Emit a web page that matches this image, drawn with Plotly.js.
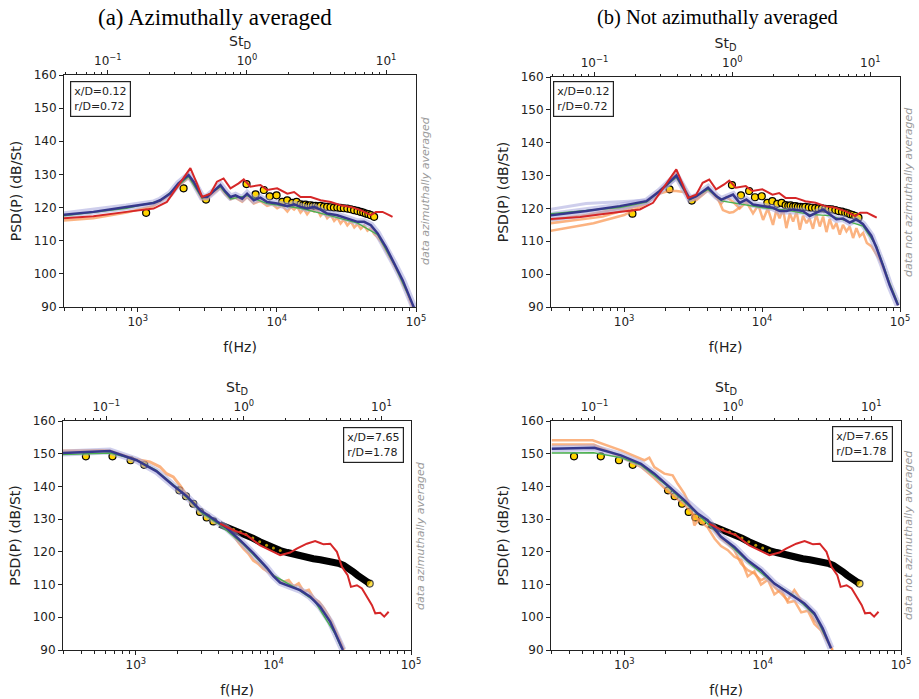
<!DOCTYPE html>
<html>
<head>
<meta charset="utf-8">
<script src="https://cdn.plot.ly/plotly-3.0.1.min.js"></script>
<style>
  html, body { margin: 0; padding: 0; background: #fff; }
  #chart { width: 919px; height: 699px; }
</style>
</head>
<body>
<div id="chart"></div>
<script>
// ---------------- Experiment (near field, x/D=0.12) ----------------
const expTopSparseF  = [1149, 2135, 3095, 6050, 7030, 8060, 8880, 9950, 10920, 11870, 12900, 13850];
const expTopSparseDb = [118.4, 125.8, 122.4, 127.1, 124.0, 125.3, 123.4, 123.7, 121.7, 122.2, 121.4, 121.7];
const expTopDenseF  = [14830, 15500, 16100, 16800, 17500, 18200, 19000, 19800, 20600, 21800, 23000, 24300, 25700, 27200, 28700, 30300, 32100, 34000, 35900, 38000, 40100, 41800, 43600, 45500, 47400, 50000];
const expTopDenseDb = [121.0, 120.8, 120.9, 120.6, 120.7, 120.5, 120.5, 120.4, 120.5, 120.3, 120.2, 120.1, 120.0, 120.0, 119.9, 119.8, 119.7, 119.5, 119.2, 119.0, 118.7, 118.5, 118.2, 118.0, 117.7, 117.2];

// ---------------- Experiment (far field, x/D=7.65) ----------------
const expBotSparseF  = [433, 676, 915, 1150, 2070, 2313, 2614, 2922, 3270, 3660];
const expBotSparseDb = [149.2, 149.2, 148.0, 146.6, 138.8, 137.0, 134.7, 132.2, 130.5, 129.3];
const expBotDenseF  = [4070, 4570, 5130, 5750, 6310, 7080, 7940, 8910, 10000, 11200, 12600, 14100, 15800, 17400, 19500, 21900, 24500, 27500, 30200, 32400, 35500, 38000, 40700, 43600, 46800, 50100];
const expBotDenseDb = [128.4, 127.6, 126.8, 126.1, 125.3, 124.2, 123.1, 122.0, 121.2, 120.4, 119.8, 119.2, 118.7, 118.3, 117.9, 117.6, 117.3, 116.9, 116.4, 115.9, 115.0, 113.9, 112.9, 111.9, 111.0, 110.3];

// ---------------- Reference simulation (red) ----------------
const redTopF  = [275, 480, 830, 1300, 1620, 2020, 2390, 2660, 2900, 3330, 3710, 4140, 4640, 5310, 5780, 6450, 7620, 8510, 10050, 11900, 13300, 14800, 17500, 20600, 24400, 28700, 34000, 40100, 47400, 51500, 57500, 64200, 67800];
const redTopDb = [116.7, 117.4, 118.7, 119.7, 121.7, 127.3, 131.9, 127.3, 123.2, 124.2, 127.8, 128.8, 125.8, 127.3, 128.5, 126.3, 126.8, 125.3, 125.8, 124.2, 124.7, 123.2, 123.2, 122.2, 121.7, 120.7, 120.2, 119.2, 117.7, 118.7, 118.7, 117.7, 117.2];
const redBotF  = [4090, 5120, 6400, 8000, 10000, 11190, 13220, 14780, 17490, 20100, 21870, 23120, 25870, 28930, 31470, 34610, 36590, 40450, 43990, 47830, 52020, 55000, 59800, 63900, 68800];
const redBotDb = [128.6, 126.6, 125.1, 122.0, 120.0, 119.0, 119.8, 121.0, 122.5, 123.3, 122.7, 122.3, 122.5, 120.0, 115.4, 112.9, 109.3, 109.8, 108.8, 106.3, 103.7, 101.2, 101.4, 100.2, 101.7];

// ---------------- (a) azimuthally averaged, x/D=0.12 ----------------
const navyAF  = [275, 480, 830, 1300, 1450, 1710, 1960, 2320, 2520, 2900, 3150, 3610, 3930, 4270, 4640, 5040, 5630, 6110, 6830, 7620, 8510, 10050, 11900, 13300, 14800, 16500, 18500, 20600, 23000, 27200, 32100, 38000, 42400, 47400, 53000, 60800, 69800, 80200, 92000, 97300];
const navyADb = [117.7, 118.7, 120.2, 121.4, 122.2, 124.2, 127.3, 129.8, 127.8, 123.2, 123.2, 125.3, 126.8, 124.8, 123.2, 123.7, 122.7, 124.2, 122.2, 123.0, 121.7, 121.2, 120.4, 121.0, 120.2, 119.7, 120.2, 119.4, 118.2, 117.7, 116.7, 115.7, 115.7, 114.7, 112.2, 108.1, 103.1, 98.1, 92.0, 89.5];
const orangeAF  = [275, 480, 830, 1300, 1600, 1960, 2320, 2520, 2900, 3150, 3610, 3930, 4270, 4640, 5040, 5630, 6110, 6830, 7620, 8510, 9300, 10050, 10900, 11900, 12600, 13300, 14000, 14800, 15600, 16500, 17500, 18500, 19500, 20600, 21800, 23000, 24400, 25800, 27200, 28700, 30300, 32100, 34000, 36000, 38000, 40100, 42400, 44800, 47400, 50000, 53000, 56500, 60800, 65000, 69800, 75000, 80200, 86000, 92000, 97300];
const orangeADb = [116.0, 116.8, 118.5, 120.5, 123.0, 126.5, 129.0, 127.0, 122.5, 122.8, 124.8, 126.0, 124.0, 122.5, 123.0, 121.8, 123.2, 121.2, 122.0, 120.5, 121.0, 119.8, 120.6, 118.8, 120.2, 119.4, 120.3, 118.5, 119.6, 118.0, 119.4, 118.8, 119.6, 117.5, 118.6, 116.8, 117.8, 116.0, 117.0, 115.2, 116.4, 114.6, 115.8, 114.0, 115.0, 113.6, 114.6, 113.0, 113.8, 112.0, 111.0, 109.5, 107.0, 105.0, 102.5, 100.0, 97.0, 94.5, 91.0, 89.0];
const greenAF  = [275, 830, 1450, 2320, 2900, 3930, 4640, 6110, 8510, 14800, 23000, 38000, 53000, 69800, 92000];
const greenADb = [117.4, 119.8, 122.0, 129.3, 122.8, 126.2, 122.6, 123.6, 121.2, 119.8, 117.8, 115.3, 111.8, 102.8, 91.8];

// ---------------- (b) not averaged, x/D=0.12 ----------------
const navyBF  = [292, 533, 931, 1452, 1814, 2393, 2990, 3343, 4060, 4670, 5070, 6160, 6880, 7690, 8600, 10170, 12020, 13430, 15010, 16780, 19820, 22140, 24750, 27670, 30920, 34560, 38630, 43170, 48270, 53950, 61960, 67400, 75300, 84200, 96800];
const navyBDb = [117.9, 119.2, 120.7, 122.2, 125.3, 130.0, 122.9, 123.7, 126.3, 123.7, 122.7, 124.2, 121.7, 122.7, 121.2, 120.7, 120.2, 119.2, 119.2, 119.7, 119.2, 117.7, 118.7, 119.7, 118.2, 116.7, 116.9, 115.7, 116.7, 115.2, 111.7, 108.1, 102.6, 96.6, 90.5];
const orangeB1F  = [292, 530, 930, 1450, 1810, 2390, 2990, 3340, 4060, 4670, 5070, 5500, 6160, 6880, 7690, 8600, 9400, 10170, 11000, 12000, 12700, 13400, 14200, 15000, 15900, 16800, 17800, 18800, 19800, 21000, 22100, 23400, 24700, 26200, 27700, 29300, 30900, 32700, 34600, 36600, 38600, 40900, 43200, 45700, 48300, 51000, 54000, 57500, 62000, 67400, 71000, 75300, 80000, 84200, 90000, 96800];
const orangeB1Db = [116.5, 118.0, 120.0, 122.0, 125.5, 129.5, 122.5, 123.0, 126.0, 123.0, 121.5, 123.5, 122.0, 120.0, 122.0, 118.5, 121.0, 116.5, 120.0, 115.0, 119.5, 117.0, 119.8, 114.0, 118.5, 116.0, 119.0, 113.5, 117.8, 115.5, 117.0, 113.8, 118.2, 114.5, 117.5, 112.8, 116.8, 113.8, 115.5, 112.0, 115.0, 113.0, 114.5, 111.0, 114.0, 111.5, 112.5, 109.5, 108.5, 106.0, 104.5, 102.0, 99.5, 97.0, 94.0, 90.5];
const orangeB2F  = [292, 600, 1000, 1450, 1810, 2390, 2700, 2990, 3340, 4060, 4670, 5200, 5800, 6200, 7000];
const orangeB2Db = [113.2, 115.5, 118.0, 121.5, 124.8, 130.5, 127.0, 123.0, 122.5, 125.5, 124.0, 119.5, 118.7, 118.9, 120.5];
const orangeB3F  = [292, 700, 1200, 1810, 2100, 2390, 2700, 2990, 3340];
const orangeB3Db = [115.5, 117.5, 120.5, 124.5, 125.3, 125.3, 125.0, 123.5, 123.0];
const lavB1F  = [292, 530, 930, 1450, 1810, 2390];
const lavB1Db = [119.7, 121.5, 122.0, 122.5, 125.0, 129.0];
const lavB2F  = [292, 530, 930, 1450, 1810];
const lavB2Db = [116.4, 117.8, 119.5, 121.6, 124.6];
const greenBF  = [292, 931, 1452, 2393, 2990, 4060, 5070, 6880, 10170, 15010, 22140, 30920, 43170, 53950, 67400, 84200, 96800];
const greenBDb = [118.4, 120.3, 121.9, 129.5, 122.6, 125.8, 122.3, 121.4, 120.2, 119.5, 118.2, 117.8, 115.8, 114.6, 108.6, 97.2, 91.0];

// ---------------- (a) azimuthally averaged, x/D=7.65 ----------------
const navyCF  = [280, 578, 647, 1011, 1414, 1870, 2340, 2925, 3660, 4570, 5710, 7140, 8930, 10000, 11190, 13230, 15630, 18490, 21870, 25870, 28930, 31980];
const navyCDb = [150.2, 150.9, 150.8, 148.0, 144.6, 140.3, 137.0, 132.8, 129.9, 127.3, 123.6, 119.6, 115.2, 112.6, 110.6, 109.4, 108.3, 106.3, 103.2, 98.6, 94.1, 90.0];
const orangeCF  = [280, 578, 647, 1011, 1265, 1495, 1670, 1870, 2090, 2340, 2540, 2760, 3010, 3270, 3660, 4090, 4570, 5120, 5560, 6060, 6580, 7140, 7770, 8440, 9180, 10000, 10880, 11840, 12880, 14010, 15250, 16590, 18040, 19640, 21360, 23230, 25270, 27500, 29900, 32550];
const orangeCDb = [150.8, 151.0, 150.8, 148.2, 147.5, 146.0, 143.9, 142.9, 140.3, 137.3, 134.7, 133.9, 132.2, 131.4, 129.7, 128.6, 127.1, 125.1, 123.0, 121.0, 119.5, 117.4, 116.4, 114.9, 113.9, 112.6, 111.5, 110.8, 111.3, 109.3, 110.3, 107.8, 108.3, 105.7, 104.7, 102.7, 100.2, 97.1, 93.5, 90.0];
const greenCF  = [280, 650, 1000, 1400, 2000, 3000, 4000, 6000, 10000, 15000, 20000, 28000, 31000];
const greenCDb = [149.7, 150.2, 148.2, 145.0, 139.5, 132.0, 128.5, 122.4, 112.8, 108.6, 104.9, 95.0, 90.8];

// ---------------- (b) not averaged, x/D=7.65 ----------------
const navyDF  = [299, 607, 946, 1319, 1648, 2056, 2715, 3390, 4000, 4995, 6240, 7790, 9730, 12150, 14340, 16930, 20000, 23610, 27150, 31190];
const navyDDb = [151.5, 151.8, 149.5, 146.9, 143.9, 140.3, 135.8, 131.7, 129.7, 124.6, 121.5, 117.4, 114.4, 110.3, 108.3, 106.3, 104.2, 101.2, 96.6, 90.5];
const orangeD1F  = [299, 590, 946, 1395, 1516, 1648, 1946, 2236, 2430, 2715, 3033, 3204, 3582, 4000, 4470, 4995, 5580, 6240, 6970, 7790, 8700, 9730, 10870, 12150, 13580, 15170, 16950, 18950, 21170, 23650, 26430, 29530, 32030];
const orangeD1Db = [154.1, 154.1, 151.0, 148.0, 148.8, 145.9, 143.9, 143.4, 140.8, 137.8, 133.7, 128.1, 130.7, 129.7, 126.6, 124.1, 122.5, 120.5, 116.4, 114.4, 113.4, 111.3, 112.4, 109.3, 107.3, 105.2, 108.3, 105.2, 103.2, 99.1, 97.1, 93.0, 90.0];
const orangeD2F  = [299, 600, 946, 1320, 1650, 2060, 2720, 3390, 4000, 4500, 5000, 5600, 6240, 7000, 7790, 8700, 9730, 10900, 12150, 13600, 15200, 17000, 19000, 21200, 23600, 26400, 29500, 32000];
const orangeD2Db = [152.8, 152.8, 149.0, 146.0, 142.5, 138.5, 134.5, 130.0, 127.5, 124.0, 121.8, 120.5, 118.5, 117.5, 112.5, 114.0, 110.0, 111.5, 107.0, 108.5, 104.5, 105.0, 101.5, 102.0, 98.0, 96.0, 92.5, 90.0];
const greenDF  = [299, 600, 946, 1320, 2060, 3390, 5000, 8000, 12000, 17000, 24000, 31000];
const greenDDb = [150.2, 150.3, 148.8, 146.5, 140.0, 131.5, 124.8, 116.5, 110.5, 106.5, 100.5, 90.8];

// ---------------- axis labels ----------------
const freqTickVals = [1e3, 1e4, 1e5];
const freqTickText = ['10<sup>3</sup>', '10<sup>4</sup>', '10<sup>5</sup>'];
const stTickVals = [0.1, 1, 10];
const stTickText = ['10<sup>\u22121</sup>', '10<sup>0</sup>', '10<sup>1</sup>'];

// ---------------- styling ----------------
const FONT = 'DejaVu Sans, Verdana, sans-serif';
const SERIF = 'Liberation Serif, Times New Roman, serif';
const INK = '#222';
const C_ORANGE = 'rgba(250,150,80,0.72)';
const C_LAV = 'rgba(165,165,220,0.55)';
const C_GREEN = '#4caf50';
const C_NAVY = '#36388c';
const C_RED = '#d62728';
const C_YEL = '#ffd500';
const W = 919, H = 699;
const LOGF = [2.47, 5];       // log10 of f range
const SHIFT = -3.785;         // log10(St/f)

const px = v => v / W;
const py = v => 1 - v / H;

function minorTicks(lo, hi) {
  const out = [];
  for (let e = Math.floor(lo); e <= Math.ceil(hi); e++) {
    for (let m = 2; m <= 9; m++) {
      const v = m * Math.pow(10, e);
      const lv = Math.log10(v);
      if (lv > lo && lv < hi) out.push(v);
    }
  }
  return out;
}

const layout = {
  width: W, height: H,
  margin: {l: 0, r: 0, t: 0, b: 0},
  paper_bgcolor: '#fff', plot_bgcolor: '#fff',
  showlegend: false,
  font: {family: FONT, color: INK},
  annotations: []
};

const panels = [
  {n: '',  top: 5, xd: [64, 416], yd: [75, 307]},
  {n: '2', top: 6, xd: [551, 900], yd: [77, 307]},
  {n: '3', top: 7, xd: [63, 411], yd: [421, 650]},
  {n: '4', top: 8, xd: [551, 901], yd: [421, 650]}
];

const traces = [];

panels.forEach(p => {
  const xd = [px(p.xd[0]), px(p.xd[1])];
  const yd = [py(p.yd[1]), py(p.yd[0])];
  const axCommon = {
    showgrid: false, zeroline: false, showline: true, linecolor: INK, linewidth: 1,
    ticks: 'outside', ticklen: 4, tickwidth: 1, tickcolor: INK,
    tickfont: {family: FONT, size: 12, color: INK}
  };
  const minorStyle = {ticks: 'outside', ticklen: 2.5, tickwidth: 1, tickcolor: INK, tickmode: 'array', showgrid: false};
  layout['xaxis' + p.n] = Object.assign({}, axCommon, {
    type: 'log', range: LOGF, domain: xd, anchor: 'y' + p.n,
    tickmode: 'array', tickvals: freqTickVals, ticktext: freqTickText,
    minor: Object.assign({tickvals: minorTicks(LOGF[0], LOGF[1])}, minorStyle),
    title: {text: 'f(Hz)', font: {family: FONT, size: 14, color: INK}, standoff: 13}
  });
  const stRange = [LOGF[0] + SHIFT, LOGF[1] + SHIFT];
  layout['xaxis' + p.top] = Object.assign({}, axCommon, {
    type: 'log', range: stRange, overlaying: 'x' + p.n, anchor: 'y' + p.n, side: 'top',
    tickmode: 'array', tickvals: stTickVals, ticktext: stTickText,
    minor: Object.assign({tickvals: minorTicks(stRange[0], stRange[1])}, minorStyle),
    title: {text: 'St<sub>D</sub>', font: {family: FONT, size: 14, color: INK}, standoff: 2}
  });
  layout['yaxis' + p.n] = Object.assign({}, axCommon, {
    range: [90, 160], domain: yd, anchor: 'x' + p.n, dtick: 10, tick0: 0, mirror: true,
    title: {text: 'PSD(P) (dB/St)', font: {family: FONT, size: 14, color: INK}, standoff: 8}
  });
  // empty series so the Strouhal axis on top gets drawn
  traces.push({type: 'scatter', mode: 'lines', x: [], y: [], xaxis: 'x' + p.top, yaxis: 'y' + p.n,
    hoverinfo: 'skip'});
});

// ---------------- traces ----------------
function line(n, f, db, color, width) {
  traces.push({
    type: 'scatter', mode: 'lines', x: f, y: db, xaxis: 'x' + n, yaxis: 'y' + n,
    line: {color: color, width: width, shape: 'linear'}, hoverinfo: 'skip'
  });
}
function expMarkers(n, f, db) {
  traces.push({type: 'scatter', mode: 'markers', x: f, y: db, xaxis: 'x' + n, yaxis: 'y' + n,
    marker: {size: 7, color: C_YEL, line: {color: '#000', width: 1.2}}, hoverinfo: 'skip'});
}
function expBand(n, f, db) {
  // densely packed measurement points: black ring band with yellow centres showing through
  traces.push({type: 'scatter', mode: 'lines', x: f, y: db, xaxis: 'x' + n, yaxis: 'y' + n,
    line: {color: '#000', width: 7}, hoverinfo: 'skip'});
  const last = f.length - 1;
  traces.push({type: 'scatter', mode: 'markers', x: f, y: db, xaxis: 'x' + n, yaxis: 'y' + n,
    marker: {size: f.map((v, i) => (i === last ? 7 : (v < 12000 ? 3 : 0))), color: C_YEL,
             line: {color: '#000', width: f.map((v, i) => (i === last ? 1.2 : 0))}},
    hoverinfo: 'skip'});
}

// panel 1
expMarkers('', expTopSparseF, expTopSparseDb);
expMarkers('', expTopDenseF, expTopDenseDb);
line('', orangeAF, orangeADb, C_ORANGE, 2.5);
line('', navyAF, navyADb, C_LAV, 7);
line('', greenAF, greenADb, C_GREEN, 1.4);
line('', navyAF, navyADb, C_NAVY, 2.5);
line('', redTopF, redTopDb, C_RED, 2);

// panel 2
expMarkers('2', expTopSparseF, expTopSparseDb);
expMarkers('2', expTopDenseF, expTopDenseDb);
line('2', orangeB1F, orangeB1Db, C_ORANGE, 2.5);
line('2', orangeB2F, orangeB2Db, C_ORANGE, 2.5);
line('2', orangeB3F, orangeB3Db, C_ORANGE, 2.5);
line('2', lavB1F, lavB1Db, C_LAV, 3);
line('2', lavB2F, lavB2Db, C_LAV, 3);
line('2', navyBF, navyBDb, C_LAV, 7);
line('2', greenBF, greenBDb, C_GREEN, 1.4);
line('2', navyBF, navyBDb, C_NAVY, 2.5);
line('2', redTopF, redTopDb, C_RED, 2);

// panel 3
expMarkers('3', expBotSparseF, expBotSparseDb);
expBand('3', expBotDenseF, expBotDenseDb);
line('3', orangeCF, orangeCDb, C_ORANGE, 3);
line('3', navyCF, navyCDb, C_LAV, 7);
line('3', greenCF, greenCDb, C_GREEN, 1.4);
line('3', navyCF, navyCDb, C_NAVY, 2.5);
line('3', redBotF, redBotDb, C_RED, 2);

// panel 4
expMarkers('4', expBotSparseF, expBotSparseDb);
expBand('4', expBotDenseF, expBotDenseDb);
line('4', orangeD1F, orangeD1Db, C_ORANGE, 2.5);
line('4', orangeD2F, orangeD2Db, C_ORANGE, 2.5);
line('4', navyDF, navyDDb, C_LAV, 7);
line('4', greenDF, greenDDb, C_GREEN, 1.4);
line('4', navyDF, navyDDb, C_NAVY, 2.5);
line('4', redBotF, redBotDb, C_RED, 2);

// ---------------- annotations ----------------
const ann = layout.annotations;
ann.push({xref: 'paper', yref: 'paper', x: px(215), y: py(18), xanchor: 'center', yanchor: 'middle',
  text: '(a) Azimuthally averaged', showarrow: false,
  font: {family: SERIF, size: 23, color: '#000'}});
ann.push({xref: 'paper', yref: 'paper', x: px(717), y: py(18), xanchor: 'center', yanchor: 'middle',
  text: '(b) Not azimuthally averaged', showarrow: false,
  font: {family: SERIF, size: 20.5, color: '#000'}});

function sideNote(x, y, text) {
  ann.push({xref: 'paper', yref: 'paper', x: px(x), y: py(y), xanchor: 'center', yanchor: 'middle',
    text: text, textangle: -90, showarrow: false,
    font: {family: FONT, size: 11, color: '#9a9a9a', style: 'italic'}});
}
sideNote(425, 191, 'data azimuthally averaged');
sideNote(908, 192, 'data not azimuthally averaged');
sideNote(420, 536, 'data azimuthally averaged');
sideNote(908, 535, 'data not azimuthally averaged');

function posBox(x, y, text) {
  ann.push({xref: 'paper', yref: 'paper', x: px(x), y: py(y), xanchor: 'left', yanchor: 'top',
    text: text, align: 'left', showarrow: false, bgcolor: '#fff', bordercolor: INK, borderwidth: 1.2,
    borderpad: 3, font: {family: FONT, size: 11, color: INK}});
}
posBox(69.5, 81.5, 'x/D=0.12<br>r/D=0.72');
posBox(553, 81, 'x/D=0.12<br>r/D=0.72');
posBox(343, 427, 'x/D=7.65<br>r/D=1.78');
posBox(832, 426, 'x/D=7.65<br>r/D=1.78');

Plotly.newPlot('chart', traces, layout, {staticPlot: true, displayModeBar: false});
</script>
</body>
</html>
